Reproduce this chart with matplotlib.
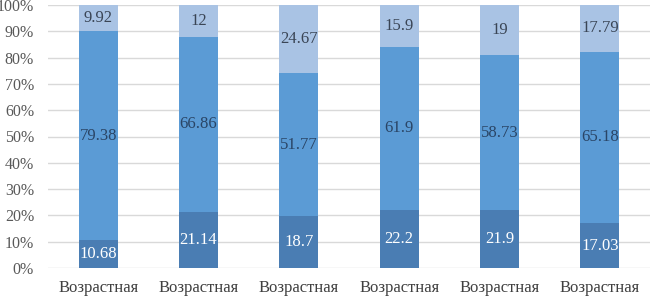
import matplotlib.pyplot as plt
import numpy as np

categories = ["Возрастная"] * 6
bottom_vals = [10.68, 21.14, 18.7, 22.2, 21.9, 17.03]
middle_vals = [79.38, 66.86, 51.77, 61.9, 58.73, 65.18]
top_vals = [9.92, 12, 24.67, 15.9, 19, 17.79]

plt.rcParams['font.family'] = ['Liberation Serif', 'DejaVu Serif']

fig = plt.figure(figsize=(6.5, 2.96), dpi=100)
ax = fig.add_axes([48 / 650, 28 / 296, 602 / 650, 263 / 296])

x = np.arange(len(categories))
w = 0.39
# 100% stacked: normalise each column, label with the raw values
totals = np.array(bottom_vals) + np.array(middle_vals) + np.array(top_vals)
series = [
    (bottom_vals, "#4a7db3", "white"),
    (middle_vals, "#5b9bd5", "#2a4566"),
    (top_vals, "#a9c3e4", "#3a4555"),
]
base = np.zeros(len(categories))
for vals, color, tcolor in series:
    vals = np.array(vals, dtype=float)
    h = vals / totals * 100
    ax.bar(x, h, w, bottom=base, color=color, zorder=3)
    for xi, b, hi, v in zip(x, base, h, vals):
        ax.text(xi, b + hi / 2, f"{v:g}", ha="center", va="center",
                fontsize=12, color=tcolor, zorder=4)
    base = base + h

ax.set_xlim(-0.5, len(categories) - 0.5)
ax.set_ylim(0, 100)
ax.set_yticks(np.arange(0, 101, 10))
ax.set_yticklabels([f"{t}%" for t in range(0, 101, 10)], fontsize=11.5, color="#595959")
ax.set_xticks(x)
ax.set_xticklabels(categories, fontsize=12, color="#404040")
ax.tick_params(axis="y", length=0, pad=10)
ax.tick_params(axis="x", length=0, pad=9)
ax.grid(axis="y", color="#d9d9d9", linewidth=1, zorder=0)
for s in ax.spines.values():
    s.set_visible(False)

fig.savefig("out.png", dpi=100)
